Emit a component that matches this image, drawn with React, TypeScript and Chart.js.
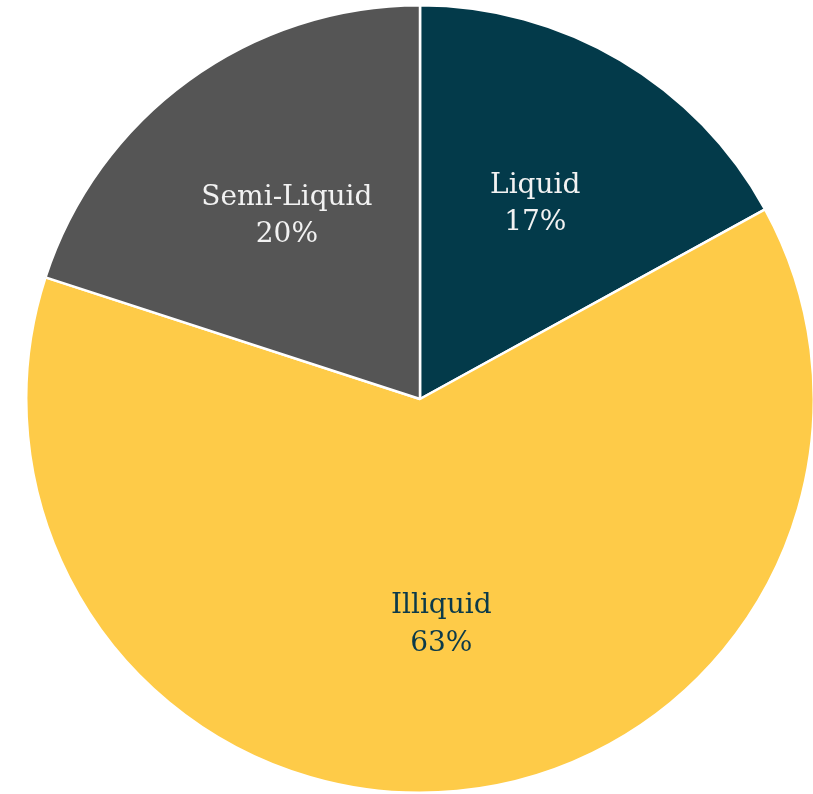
import React, { useEffect, useRef } from "react";
import { Chart, registerables } from "chart.js";

Chart.register(...registerables);

const categories = ["Liquid", "Illiquid", "Semi-Liquid"];
const values = [17, 63, 20];
const sliceColors = ["#033A4A", "#FECB48", "#555555"];
const labelColors = ["#F2F2F2", "#0B3A4A", "#F2F2F2"];

const labelPlugin = {
  id: "sliceLabels",
  afterDatasetsDraw(chart: any) {
    const { ctx } = chart;
    const meta = chart.getDatasetMeta(0);
    const total = values.reduce((a, b) => a + b, 0);
    ctx.save();
    ctx.font = "28px 'DejaVu Serif', Georgia, serif";
    ctx.textAlign = "center";
    ctx.textBaseline = "middle";
    meta.data.forEach((arc: any, i: number) => {
      const { x, y, startAngle, endAngle, outerRadius } = arc.getProps(
        ["x", "y", "startAngle", "endAngle", "outerRadius"],
        true
      );
      const mid = (startAngle + endAngle) / 2;
      const r = outerRadius * 0.575;
      const cx = x + Math.cos(mid) * r;
      const cy = y + Math.sin(mid) * r;
      ctx.fillStyle = labelColors[i];
      const pct = Math.round((values[i] / total) * 100) + "%";
      ctx.fillText(categories[i], cx, cy - 18.5);
      ctx.fillText(pct, cx, cy + 19);
    });
    ctx.restore();
  },
};

export default function App() {
  const ref = useRef<HTMLCanvasElement | null>(null);
  useEffect(() => {
    if (!ref.current) return;
    const chart = new Chart(ref.current, {
      type: "pie",
      data: {
        labels: categories,
        datasets: [
          {
            data: values,
            backgroundColor: sliceColors,
            borderColor: "#FFFFFF",
            borderWidth: 2.5,
          },
        ],
      },
      options: {
        animation: false,
        responsive: false,
        maintainAspectRatio: false,
        layout: { padding: 0 },
        plugins: {
          legend: { display: false },
          tooltip: { enabled: false },
        },
      },
      plugins: [labelPlugin],
    });
    return () => chart.destroy();
  }, []);
  return (
    <div
      style={{
        position: "fixed",
        left: 0,
        top: 0,
        width: 813,
        height: 794,
        overflow: "hidden",
        background: "#FFFFFF",
      }}
    >
      <canvas
        ref={ref}
        width={790}
        height={790}
        style={{ position: "absolute", left: 25, top: 4, width: 790, height: 790 }}
      />
    </div>
  );
}
